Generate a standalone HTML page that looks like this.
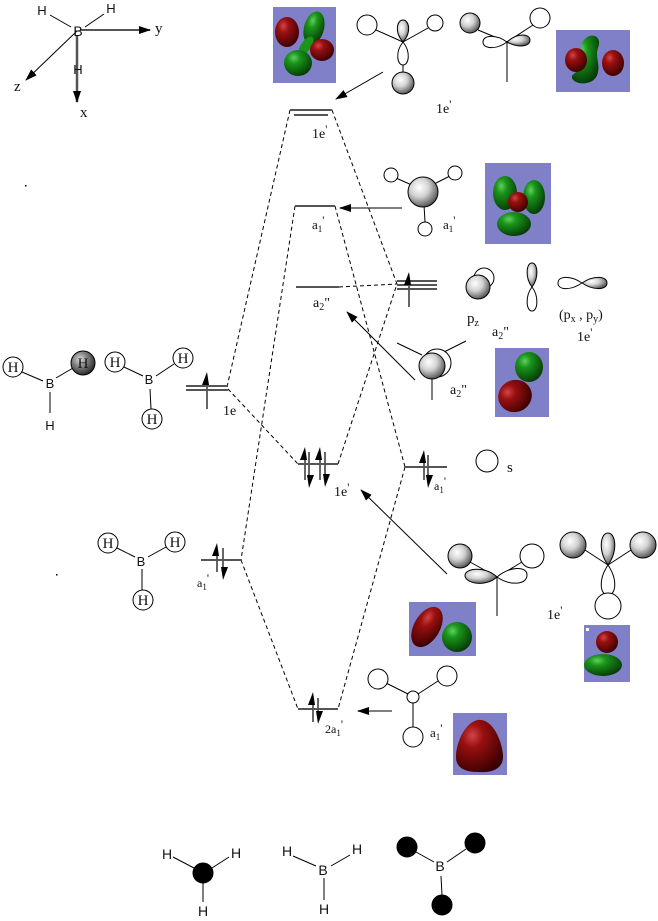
<!DOCTYPE html>
<html><head><meta charset="utf-8"><style>
html,body{margin:0;padding:0;background:#fff}
svg{display:block}
.s{font-family:"Liberation Serif",serif;fill:#111}
.a{font-family:"Liberation Sans",sans-serif;fill:#111}
</style></head><body>
<svg width="658" height="921" viewBox="0 0 658 921" xmlns="http://www.w3.org/2000/svg">
<defs>
<radialGradient id="g" cx="0.38" cy="0.35" r="0.7"><stop offset="0" stop-color="#fff"/><stop offset="0.45" stop-color="#d2d2d2"/><stop offset="1" stop-color="#4a4a4a"/></radialGradient>
<radialGradient id="gd" cx="0.38" cy="0.35" r="0.7"><stop offset="0" stop-color="#ddd"/><stop offset="0.4" stop-color="#888"/><stop offset="1" stop-color="#222"/></radialGradient>
<radialGradient id="red" cx="0.35" cy="0.3" r="0.75"><stop offset="0" stop-color="#d04545"/><stop offset="0.3" stop-color="#9a1010"/><stop offset="1" stop-color="#3a0000"/></radialGradient>
<radialGradient id="grn" cx="0.35" cy="0.3" r="0.75"><stop offset="0" stop-color="#60d060"/><stop offset="0.3" stop-color="#1a941a"/><stop offset="1" stop-color="#053805"/></radialGradient>
<marker id="ah" viewBox="0 0 12 8" refX="11" refY="4" markerWidth="12" markerHeight="8" markerUnits="userSpaceOnUse" orient="auto"><path d="M0,0 L12,4 L0,8 z" fill="#000"/></marker>
</defs>

<!-- axes -->
<g stroke="#000" fill="none">
<line x1="50" y1="15" x2="71" y2="27" stroke-width="1"/>
<line x1="85" y1="27" x2="104" y2="14" stroke-width="1"/>
<line x1="80" y1="30" x2="150" y2="30" stroke="#555" stroke-width="2" marker-end="url(#ah)"/>
<line x1="77" y1="31" x2="26" y2="80" stroke-width="1" marker-end="url(#ah)"/>
<line x1="77" y1="36" x2="77" y2="102" stroke="#555" stroke-width="2.5" marker-end="url(#ah)"/>
</g>
<text class="a" x="42" y="15" font-size="13" text-anchor="middle">H</text>
<text class="a" x="111" y="13" font-size="13" text-anchor="middle">H</text>
<text class="a" x="78" y="36" font-size="14" text-anchor="middle" fill="#333">B</text>
<text class="a" x="78" y="74" font-size="13" text-anchor="middle" fill="#333">H</text>
<text class="s" x="155" y="33" font-size="15">y</text>
<text class="s" x="14" y="91" font-size="15">z</text>
<text class="s" x="80" y="117" font-size="15">x</text>

<!-- orbital boxes -->
<rect x="273" y="7" width="63" height="76" fill="#8080c8"/>
<ellipse cx="314" cy="28" rx="10" ry="17" fill="url(#grn)" transform="rotate(15 314 28)"/>
<ellipse cx="306" cy="46" rx="5" ry="11" fill="#1a941a" transform="rotate(35 306 46)"/>
<ellipse cx="298" cy="63" rx="14" ry="13" fill="url(#grn)"/>
<ellipse cx="287" cy="32" rx="12" ry="15" fill="url(#red)"/>
<ellipse cx="322" cy="50" rx="12" ry="11" fill="url(#red)"/>

<rect x="556" y="30" width="74" height="62" fill="#8080c8"/>
<path d="M584,40 C590,32 603,35 598,48 C595,56 600,64 598,72 C596,86 575,86 572,78 C570,72 588,70 586,60 C584,52 578,46 584,40Z" fill="url(#grn)"/>
<ellipse cx="576" cy="60" rx="11" ry="12" fill="url(#red)"/>
<ellipse cx="613" cy="63" rx="11" ry="13" fill="url(#red)"/>

<rect x="485" y="163" width="66" height="81" fill="#8080c8"/>
<ellipse cx="505" cy="193" rx="12" ry="17" fill="url(#grn)"/>
<ellipse cx="534" cy="197" rx="11" ry="17" fill="url(#grn)"/>
<ellipse cx="514" cy="224" rx="17" ry="12" fill="url(#grn)"/>
<circle cx="518" cy="202" r="10" fill="url(#red)"/>

<rect x="495" y="348" width="54" height="69" fill="#8080c8"/>
<ellipse cx="515" cy="396" rx="17" ry="16" fill="url(#red)" transform="rotate(-25 515 396)"/>
<ellipse cx="529" cy="367" rx="14" ry="15" fill="url(#grn)"/>

<rect x="409" y="602" width="67" height="54" fill="#8080c8"/>
<ellipse cx="427" cy="627" rx="13" ry="22" fill="url(#red)" transform="rotate(30 427 627)"/>
<circle cx="457" cy="637" r="15" fill="url(#grn)"/>

<rect x="584" y="625" width="46" height="57" fill="#8080c8"/>
<rect x="586" y="628" width="3" height="3" fill="#fff"/>
<ellipse cx="603" cy="665" rx="19" ry="11" fill="url(#grn)"/>
<circle cx="607" cy="642" r="11" fill="url(#red)"/>

<rect x="453" y="713" width="54" height="62" fill="#8080c8"/>
<path d="M478,720 C492,718 502,740 503,755 C504,770 490,773 478,772 C465,772 455,768 456,755 C457,740 466,722 478,720Z" fill="url(#red)"/>

<!-- top sketches -->
<g stroke="#000" stroke-width="1">
<line x1="376" y1="30" x2="403" y2="42"/>
<line x1="403" y1="42" x2="428" y2="28"/>
<line x1="403" y1="64" x2="403" y2="73"/>
<circle cx="367" cy="25" r="10" fill="#fff"/>
<circle cx="435" cy="23" r="8" fill="#fff"/>
<path d="M403,42 C394,32 397,20 403,20 C409,20 412,32 403,42Z" fill="url(#g)"/>
<path d="M403,42 C395,52 397,65 403,65 C409,65 411,52 403,42Z" fill="#fff"/>
<circle cx="403" cy="83" r="11" fill="url(#g)"/>

<line x1="478" y1="30" x2="507" y2="42"/>
<line x1="507" y1="42" x2="533" y2="25"/>
<line x1="507" y1="42" x2="507" y2="82"/>
<circle cx="470" cy="23" r="10" fill="url(#g)"/>
<circle cx="540" cy="18" r="10" fill="#fff"/>
<path d="M507,42 C496,34 483,35 483,42 C483,49 496,50 507,42Z" fill="#fff"/>
<path d="M507,42 C518,32 530,34 530,40 C530,47 518,48 507,42Z" fill="url(#g)"/>

<!-- a1' sketch -->
<line x1="396" y1="178" x2="414" y2="186"/>
<line x1="432" y1="185" x2="450" y2="176"/>
<line x1="424" y1="205" x2="425" y2="222"/>
<circle cx="391" cy="175" r="7" fill="#fff"/>
<circle cx="455" cy="173" r="7" fill="#fff"/>
<circle cx="425" cy="229" r="7" fill="#fff"/>
<circle cx="423" cy="192" r="15" fill="url(#g)"/>

<!-- p orbitals -->
<circle cx="484" cy="278" r="10" fill="#fff"/>
<circle cx="478" cy="287" r="12" fill="url(#g)"/>
<path d="M532,287 C525,278 526,263 532,263 C538,263 539,278 532,287Z" fill="url(#g)"/>
<path d="M532,287 C525,296 526,311 532,311 C538,311 539,296 532,287Z" fill="#fff"/>
<path d="M582,283 C570,275 558,276 558,283 C558,290 570,291 582,283Z" fill="#fff"/>
<path d="M582,283 C594,275 607,276 607,283 C607,290 594,291 582,283Z" fill="url(#g)"/>

<!-- a2'' sketch -->
<line x1="397" y1="343" x2="422" y2="355"/>
<line x1="444" y1="352" x2="466" y2="341"/>
<line x1="432" y1="376" x2="432" y2="400"/>
<circle cx="437" cy="363" r="14" fill="#fff"/>
<circle cx="432" cy="366" r="13" fill="url(#g)"/>

<!-- s -->
<circle cx="487" cy="461" r="11" fill="#fff"/>

<!-- lower 1e' sketches -->
<line x1="497" y1="577" x2="497" y2="616"/>
<line x1="470" y1="562" x2="497" y2="577"/>
<line x1="497" y1="577" x2="522" y2="562"/>
<path d="M497,577 C510,566 527,566 527,575 C527,585 510,586 497,577Z" fill="#fff"/>
<circle cx="532" cy="556" r="12" fill="#fff"/>
<circle cx="460" cy="556" r="12" fill="url(#g)"/>
<path d="M497,577 C485,566 466,568 465,575 C464,583 485,588 497,577Z" fill="url(#g)"/>

<line x1="585" y1="550" x2="608" y2="565"/>
<line x1="608" y1="565" x2="631" y2="550"/>
<path d="M608,565 C598,580 600,595 608,595 C616,595 618,580 608,565Z" fill="#fff"/>
<circle cx="608" cy="606" r="13" fill="#fff"/>
<circle cx="573" cy="545" r="13" fill="url(#g)"/>
<circle cx="643" cy="545" r="13" fill="url(#g)"/>
<path d="M608,565 C598,552 600,533 608,533 C616,533 618,552 608,565Z" fill="url(#g)"/>

<!-- bottom a1' sketch -->
<line x1="386" y1="683" x2="408" y2="694"/>
<line x1="418" y1="694" x2="438" y2="681"/>
<line x1="413" y1="703" x2="413" y2="727"/>
<circle cx="378" cy="679" r="10" fill="#fff"/>
<circle cx="447" cy="676" r="10" fill="#fff"/>
<circle cx="413" cy="737" r="10" fill="#fff"/>
<circle cx="413" cy="697" r="6" fill="#fff"/>
</g>

<!-- labels right side -->
<text class="s" x="436" y="113" font-size="14">1e<tspan font-size="12" dy="-5">'</tspan></text>
<text class="s" x="443" y="229" font-size="13">a<tspan font-size="9" dy="3">1</tspan><tspan font-size="12" dy="-8">'</tspan></text>
<text class="s" x="467" y="323" font-size="15">p<tspan font-size="10" dy="3">z</tspan></text>
<text class="s" x="492" y="336" font-size="14">a<tspan font-size="10" dy="3">2</tspan><tspan dy="-3">"</tspan></text>
<text class="s" x="559" y="319" font-size="14">(p<tspan font-size="10" dy="3">x</tspan><tspan dy="-3"> , p</tspan><tspan font-size="10" dy="3">y</tspan><tspan dy="-3">)</tspan></text>
<text class="s" x="577" y="341" font-size="14">1e<tspan font-size="12" dy="-5">'</tspan></text>
<text class="s" x="450" y="394" font-size="14">a<tspan font-size="10" dy="3">2</tspan><tspan dy="-3">"</tspan></text>
<text class="s" x="507" y="472" font-size="15">s</text>
<text class="s" x="547" y="619" font-size="14">1e<tspan font-size="12" dy="-5">'</tspan></text>
<text class="s" x="430" y="737" font-size="13">a<tspan font-size="9" dy="3">1</tspan><tspan font-size="12" dy="-8">'</tspan></text>

<!-- pointer arrows -->
<g stroke="#000" stroke-width="1" fill="none">
<line x1="383" y1="72" x2="336" y2="99" marker-end="url(#ah)"/>
<line x1="402" y1="208" x2="340" y2="208" stroke="#555" stroke-width="1.5" marker-end="url(#ah)"/>
<line x1="415" y1="380" x2="347" y2="312" marker-end="url(#ah)"/>
<line x1="447" y1="574" x2="361" y2="490" marker-end="url(#ah)"/>
<line x1="392" y1="711" x2="358" y2="711" stroke="#555" stroke-width="1.5" marker-end="url(#ah)"/>
</g>

<!-- dashed correlation lines -->
<g stroke="#000" stroke-width="1" stroke-dasharray="4,3" fill="none">
<line x1="290" y1="110" x2="227" y2="387"/>
<line x1="332" y1="110" x2="397" y2="284"/>
<line x1="295" y1="206" x2="241" y2="560"/>
<line x1="335" y1="206" x2="405" y2="467"/>
<line x1="339" y1="287" x2="397" y2="284"/>
<line x1="228" y1="389" x2="298" y2="464"/>
<line x1="338" y1="464" x2="397" y2="284"/>
<line x1="405" y1="467" x2="338" y2="709"/>
<line x1="241" y1="560" x2="298" y2="709"/>
</g>

<!-- energy levels -->
<g stroke="#555" stroke-width="2" fill="none">
<line x1="290" y1="110" x2="332" y2="110"/>
<line x1="294" y1="115" x2="328" y2="115"/>
<line x1="295" y1="206" x2="335" y2="206"/>
<line x1="296" y1="287" x2="339" y2="287"/>
<line x1="397" y1="281" x2="437" y2="281"/>
<line x1="397" y1="285" x2="437" y2="285"/>
<line x1="397" y1="289" x2="437" y2="289"/>
<line x1="186" y1="386" x2="228" y2="386"/>
<line x1="186" y1="390" x2="228" y2="390"/>
<line x1="298" y1="464" x2="338" y2="464"/>
<line x1="405" y1="467" x2="447" y2="467"/>
<line x1="201" y1="560" x2="241" y2="560"/>
<line x1="298" y1="709" x2="338" y2="709"/>
</g>

<!-- electron arrows -->
<g stroke="#555" stroke-width="1.8" fill="#000">
<line x1="409" y1="307" x2="409" y2="280"/><path d="M409,272 L404,285 L411,285Z" stroke="none"/>
<line x1="207" y1="409" x2="207" y2="380"/><path d="M207,372 L202,385 L209,385Z" stroke="none"/>
<line x1="305" y1="480" x2="305" y2="456"/><path d="M305,447 L300,460 L307,460Z" stroke="none"/>
<line x1="309" y1="452" x2="309" y2="478"/><path d="M309,488 L307,475 L314,475Z" stroke="none"/>
<line x1="320" y1="480" x2="320" y2="456"/><path d="M320,447 L315,460 L322,460Z" stroke="none"/>
<line x1="325" y1="452" x2="325" y2="478"/><path d="M325,487 L323,474 L330,474Z" stroke="none"/>
<line x1="424" y1="480" x2="424" y2="458"/><path d="M424,450 L419,463 L426,463Z" stroke="none"/>
<line x1="428" y1="455" x2="428" y2="479"/><path d="M428,488 L426,475 L433,475Z" stroke="none"/>
<line x1="217" y1="572" x2="217" y2="551"/><path d="M217,543 L212,556 L219,556Z" stroke="none"/>
<line x1="223" y1="548" x2="223" y2="571"/><path d="M223,580 L221,567 L228,567Z" stroke="none"/>
<line x1="313" y1="722" x2="313" y2="700"/><path d="M313,692 L308,705 L315,705Z" stroke="none"/>
<line x1="318" y1="698" x2="318" y2="715"/><path d="M318,724 L316,711 L323,711Z" stroke="none"/>
</g>

<!-- level labels -->
<text class="s" x="312" y="138" font-size="14">1e<tspan font-size="12" dy="-5">'</tspan></text>
<text class="s" x="312" y="229" font-size="13">a<tspan font-size="9" dy="3">1</tspan><tspan font-size="12" dy="-8">'</tspan></text>
<text class="s" x="313" y="307" font-size="14">a<tspan font-size="10" dy="3">2</tspan><tspan dy="-3">"</tspan></text>
<text class="s" x="223" y="415" font-size="14">1e</text>
<text class="s" x="334" y="496" font-size="14">1e<tspan font-size="12" dy="-5">'</tspan></text>
<text class="s" x="434" y="490" font-size="12">a<tspan font-size="9" dy="3">1</tspan><tspan font-size="12" dy="-8">'</tspan></text>
<text class="s" x="197" y="587" font-size="12">a<tspan font-size="9" dy="3">1</tspan><tspan font-size="12" dy="-8">'</tspan></text>
<text class="s" x="325" y="733" font-size="12">2a<tspan font-size="9" dy="3">1</tspan><tspan font-size="12" dy="-8">'</tspan></text>

<!-- dots -->
<rect x="25" y="185" width="1.5" height="1.5" fill="#000"/>
<rect x="56" y="574" width="1.5" height="1.5" fill="#000"/>

<!-- left molecules -->
<g stroke="#000" stroke-width="1">
<line x1="22" y1="372" x2="43" y2="381"/>
<line x1="56" y1="378" x2="73" y2="368"/>
<line x1="50" y1="392" x2="50" y2="413"/>
<circle cx="13" cy="367" r="10" fill="#fff"/>
<circle cx="83" cy="363" r="12" fill="url(#gd)"/>
<line x1="124" y1="367" x2="143" y2="376"/>
<line x1="156" y1="376" x2="174" y2="364"/>
<line x1="150" y1="389" x2="151" y2="409"/>
<circle cx="115" cy="362" r="10" fill="#fff"/>
<circle cx="183" cy="358" r="10" fill="#fff"/>
<circle cx="152" cy="419" r="10" fill="#fff"/>
<line x1="117" y1="548" x2="135" y2="557"/>
<line x1="148" y1="557" x2="166" y2="547"/>
<line x1="142" y1="569" x2="142" y2="590"/>
<circle cx="108" cy="543" r="10" fill="#fff"/>
<circle cx="175" cy="542" r="10" fill="#fff"/>
<circle cx="143" cy="600" r="10" fill="#fff"/>
</g>
<g class="s" font-size="15" text-anchor="middle">
<text x="13" y="372">H</text>
<text x="83" y="368" fill="#111">H</text>
<text x="115" y="367">H</text>
<text x="183" y="363">H</text>
<text x="152" y="424">H</text>
<text x="108" y="548">H</text>
<text x="175" y="547">H</text>
<text x="143" y="605">H</text>
</g>
<g class="a" font-size="13" text-anchor="middle">
<text x="50" y="388">B</text>
<text x="50" y="430">H</text>
<text x="149" y="384">B</text>
<text x="141" y="566">B</text>
</g>

<!-- bottom molecules -->
<g stroke="#000" stroke-width="1">
<line x1="173" y1="857" x2="194" y2="868"/>
<line x1="212" y1="868" x2="229" y2="857"/>
<line x1="203" y1="883" x2="203" y2="902"/>
<circle cx="203" cy="873" r="10" fill="#000"/>
<line x1="293" y1="856" x2="316" y2="866"/>
<line x1="331" y1="866" x2="350" y2="855"/>
<line x1="324" y1="878" x2="324" y2="900"/>
<line x1="416" y1="852" x2="434" y2="862"/>
<line x1="447" y1="862" x2="466" y2="849"/>
<line x1="441" y1="876" x2="442" y2="895"/>
<circle cx="407" cy="847" r="10" fill="#000"/>
<circle cx="475" cy="843" r="10" fill="#000"/>
<circle cx="442" cy="905" r="10" fill="#000"/>
</g>
<g class="a" font-size="14" text-anchor="middle">
<text x="167" y="859">H</text>
<text x="236" y="858">H</text>
<text x="203" y="916">H</text>
<text x="287" y="856">H</text>
<text x="357" y="854">H</text>
<text x="324" y="914">H</text>
<text x="323" y="875">B</text>
<text x="440" y="871">B</text>
</g>
</svg>
</body></html>
